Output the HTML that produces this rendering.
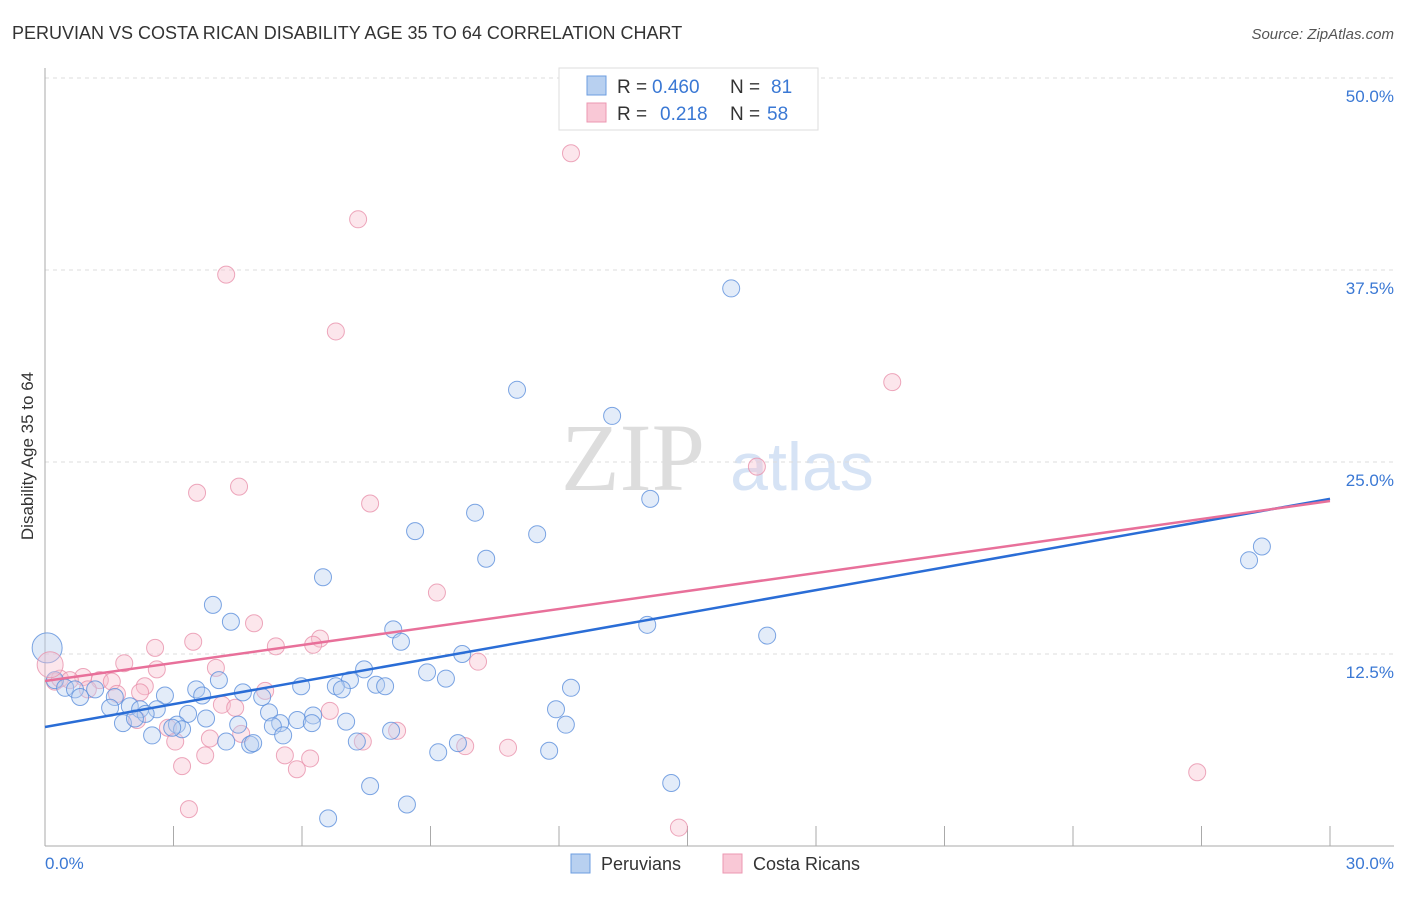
<!DOCTYPE html>
<html><head><meta charset="utf-8"><style>
body{margin:0;background:#fff;font-family:"Liberation Sans",sans-serif}
</style></head><body>
<svg id="c" width="1406" height="892" xmlns="http://www.w3.org/2000/svg">
<text x="12" y="39" font-size="18" fill="#333">PERUVIAN VS COSTA RICAN DISABILITY AGE 35 TO 64 CORRELATION CHART</text>
<text x="1394" y="39" font-size="15" fill="#555" font-style="italic" text-anchor="end">Source: ZipAtlas.com</text>
<text x="633" y="490" font-size="96" fill="#ddd" font-family="Liberation Serif" text-anchor="middle">ZIP</text>
<text x="802" y="490" font-size="68" fill="#d6e3f5" text-anchor="middle">atlas</text>
<g id="grid"></g><g id="axes"></g><g id="pts"></g><g id="trend"></g>
<text transform="translate(33,456) rotate(-90)" font-size="17" fill="#333" text-anchor="middle">Disability Age 35 to 64</text>
<text x="45" y="869" font-size="17" fill="#3a78d4">0.0%</text>
<text x="1394" y="869" font-size="17" fill="#3a78d4" text-anchor="end">30.0%</text>
<g>
<rect x="559" y="68" width="259" height="62" fill="#fff" stroke="#ddd"/>
<rect x="587" y="76" width="19" height="19" fill="#b8d0f0" stroke="#6c9ee0"/>
<rect x="587" y="103" width="19" height="19" fill="#f9c8d6" stroke="#ec97b2"/>
<text x="617" y="93" font-size="19" fill="#333">R =</text>
<text x="652" y="93" font-size="19" fill="#3a78d4">0.460</text>
<text x="730" y="93" font-size="19" fill="#333">N =</text>
<text x="771" y="93" font-size="19" fill="#3a78d4">81</text>
<text x="617" y="120" font-size="19" fill="#333">R =</text>
<text x="660" y="120" font-size="19" fill="#3a78d4">0.218</text>
<text x="730" y="120" font-size="19" fill="#333">N =</text>
<text x="767" y="120" font-size="19" fill="#3a78d4">58</text>
</g>
<g>
<rect x="571" y="854" width="19" height="19" fill="#b8d0f0" stroke="#6c9ee0"/>
<text x="601" y="870" font-size="18" fill="#333">Peruvians</text>
<rect x="723" y="854" width="19" height="19" fill="#f9c8d6" stroke="#ec97b2"/>
<text x="753" y="870" font-size="18" fill="#333">Costa Ricans</text>
</g>
</svg>
<script>
const yTicks=[12.5,25,37.5,50];
const yTickLabels=["12.5%","25.0%","37.5%","50.0%"];
const xTicks=[0,3,6,9,12,15,18,21,24,27,30];
const peruX=[16.02,11.02,13.24,14.13,10.04,11.49,8.64,10.3,6.49,3.92,4.34,8.13,8.31,14.06,16.86,28.41,28.11,9.74,7.45,8.92,9.36,7.12,5.98,6.79,6.93,7.73,7.94,12.28,4.06,3.53,2.8,4.62,5.07,3.67,0.23,0.47,0.7,0.82,1.17,1.63,1.52,1.98,2.22,2.61,2.35,3.34,3.76,5.23,5.49,5.89,6.26,6.23,7.03,1.82,2.1,4.51,5.32,3.08,3.2,2.97,5.56,2.5,4.23,4.79,4.86,7.28,8.08,11.93,12.16,9.64,9.18,11.77,7.59,8.45,6.61,14.62];
const peruY=[36.3,29.7,28.0,22.6,21.7,20.3,20.5,18.7,17.5,15.7,14.6,14.1,13.3,14.4,13.7,19.5,18.6,12.5,11.5,11.3,10.9,10.8,10.4,10.4,10.2,10.5,10.4,10.3,10.8,10.2,9.8,10.0,9.7,9.8,10.8,10.3,10.2,9.7,10.2,9.7,9.0,9.1,8.9,8.9,8.6,8.6,8.3,8.7,8.0,8.2,8.5,8.0,8.1,8.0,8.3,7.9,7.8,7.9,7.6,7.7,7.2,7.2,6.8,6.6,6.7,6.8,7.5,8.9,7.9,6.7,6.1,6.2,3.9,2.7,1.8,4.1];
const costaX=[12.28,7.31,4.23,6.79,19.78,16.62,4.53,3.55,7.59,9.15,4.88,3.46,6.42,6.26,5.39,2.57,10.11,1.85,2.61,3.99,0.89,1.28,1.56,0.23,2.33,5.14,1.68,2.22,4.13,4.44,1.0,6.65,2.15,2.87,4.58,3.85,8.22,3.04,7.42,9.81,10.81,3.74,5.6,6.19,3.2,5.88,3.36,14.8,26.9,0.35,0.58];
const costaY=[45.1,40.8,37.2,33.5,30.2,24.7,23.4,23.0,22.3,16.5,14.5,13.3,13.5,13.1,13.0,12.9,12.0,11.9,11.5,11.6,11.0,10.8,10.7,10.7,10.4,10.1,9.9,10.0,9.2,9.0,10.2,8.8,8.2,7.7,7.3,7.0,7.5,6.8,6.8,6.5,6.4,5.9,5.9,5.7,5.2,5.0,2.4,1.2,4.8,10.9,10.8];
const peruTrend=[7.75,22.6];
const costaTrend=[10.74,22.46];
const X=v=>45+v*(1285/30);
const Y=v=>846-v*(768/50);
const NS="http://www.w3.org/2000/svg";
function mk(t,a,p){const e=document.createElementNS(NS,t);for(const k in a)e.setAttribute(k,a[k]);p.appendChild(e);return e;}
const grid=document.getElementById('grid'),axes=document.getElementById('axes'),pts=document.getElementById('pts'),tr=document.getElementById('trend');
yTicks.forEach((v,i)=>{
 const l=mk('line',{x1:45,x2:1394,y1:Y(v),y2:Y(v),stroke:'#ddd','stroke-dasharray':'4,4'},grid);
 
 
 const t=mk('text',{x:1394,y:Y(v)+24,'font-size':17,fill:'#3a78d4','text-anchor':'end'},grid);
 t.textContent=yTickLabels[i];
 
 
});
const ya=mk('line',{x1:45,x2:45,y1:68,y2:846,stroke:'#aaa'},axes);


const xa=mk('line',{x1:45,x2:1394,y1:846,y2:846,stroke:'#aaa'},axes);


xTicks.forEach(v=>{
 const t=mk('line',{x1:X(v),x2:X(v),y1:826,y2:846,stroke:'#aaa'},axes);
 
 
});
function dots(xs,ys,fill,stroke,name){
 xs.forEach((x,i)=>{
  const c=mk('circle',{cx:X(x),cy:Y(ys[i]),r:8.5,fill:fill,'fill-opacity':0.4,stroke:stroke,'stroke-opacity':0.8,'stroke-width':1},pts);
  
  
 });
}
dots(costaX,costaY,'#f7c0d0','#e891ab','costa-rican-point');
dots(peruX,peruY,'#b8d0f0','#5b8fdc','peruvian-point');
const bb=mk('circle',{cx:X(0.05),cy:Y(12.9),r:15,fill:'#b8d0f0','fill-opacity':0.45,stroke:'#5b8fdc','stroke-opacity':0.8},pts);


const pb=mk('circle',{cx:X(0.12),cy:Y(11.8),r:13,fill:'#f7c0d0','fill-opacity':0.4,stroke:'#e891ab','stroke-opacity':0.8},pts);


const l1=mk('line',{x1:X(0),y1:Y(peruTrend[0]),x2:X(30),y2:Y(peruTrend[1]),stroke:'#2a6dd6','stroke-width':2.5},tr);


const l2=mk('line',{x1:X(0),y1:Y(costaTrend[0]),x2:X(30),y2:Y(costaTrend[1]),stroke:'#e8709a','stroke-width':2.5},tr);


</script>
</body></html>
